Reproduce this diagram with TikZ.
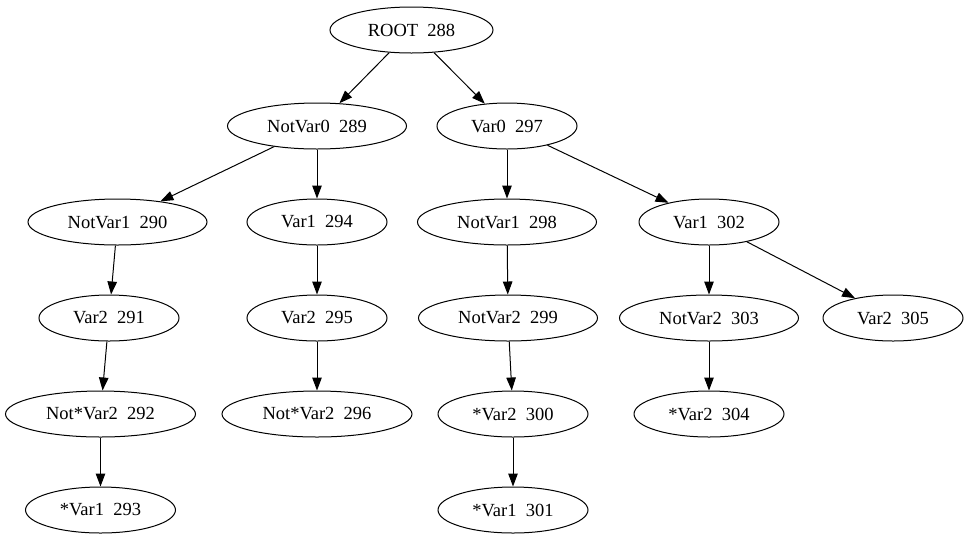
\documentclass[tikz,border=0pt]{standalone}
\usepackage{fontspec}
\setmainfont{Liberation Serif}
\usetikzlibrary{shapes.geometric,arrows.meta}
\begin{document}
\begin{tikzpicture}[x=1pt,y=-1pt,
  nd/.style={ellipse,draw,line width=1pt,inner sep=0pt,minimum height=46pt,
    font=\fontsize{18.5}{20}\selectfont},
  w140/.style={minimum width=140pt},
  w150/.style={minimum width=150pt},
  w163/.style={minimum width=163pt},
  w179/.style={minimum width=179pt},
  w190/.style={minimum width=190pt},
  edge/.style={draw,line width=1pt,-{Triangle[length=13pt,width=9.5pt]}}]
\useasboundingbox (0,0) rectangle (969,539);
\node[nd,w163] (n288) at (411.5,30) {ROOT~~288};
\node[nd,w179] (n289) at (317,126) {NotVar0~~289};
\node[nd,w140] (n297) at (507,126) {Var0~~297};
\node[nd,w179] (n290) at (117.5,222) {NotVar1~~290};
\node[nd,w140] (n294) at (317,222) {Var1~~294};
\node[nd,w179] (n298) at (507,222) {NotVar1~~298};
\node[nd,w140] (n302) at (709,222) {Var1~~302};
\node[nd,w140] (n291) at (109,318) {Var2~~291};
\node[nd,w140] (n295) at (317,318) {Var2~~295};
\node[nd,w179] (n299) at (508,318) {NotVar2~~299};
\node[nd,w179] (n303) at (709,318) {NotVar2~~303};
\node[nd,w140] (n305) at (893,318) {Var2~~305};
\node[nd,w190] (n292) at (100.5,414) {Not*Var2~~292};
\node[nd,w190] (n296) at (317,414) {Not*Var2~~296};
\node[nd,w150] (n300) at (513,414) {*Var2~~300};
\node[nd,w150] (n304) at (709,414) {*Var2~~304};
\node[nd,w150] (n293) at (100.5,510) {*Var1~~293};
\node[nd,w150] (n301) at (513,510) {*Var1~~301};
\path[edge] (n288) -- (n289);
\path[edge] (n288) -- (n297);
\path[edge] (n289) -- (n290);
\path[edge] (n289) -- (n294);
\path[edge] (n297) -- (n298);
\path[edge] (n297) -- (n302);
\path[edge] (n290) -- (n291);
\path[edge] (n294) -- (n295);
\path[edge] (n298) -- (n299);
\path[edge] (n302) -- (n303);
\path[edge] (n302) -- (n305);
\path[edge] (n291) -- (n292);
\path[edge] (n295) -- (n296);
\path[edge] (n299) -- (n300);
\path[edge] (n303) -- (n304);
\path[edge] (n292) -- (n293);
\path[edge] (n300) -- (n301);
\end{tikzpicture}
\end{document}
